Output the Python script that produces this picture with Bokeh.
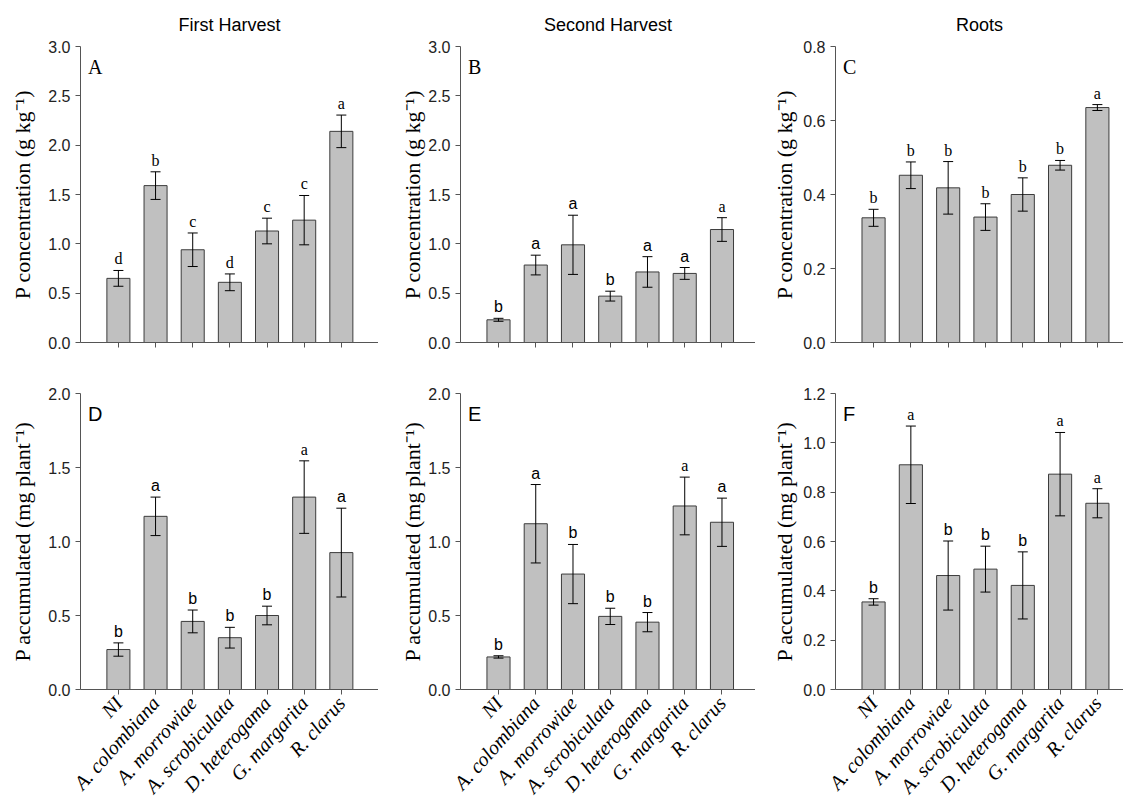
from bokeh.plotting import figure
from bokeh.layouts import column, row
from bokeh.models import (ColumnDataSource, Whisker, TeeHead, FixedTicker, Label,
                          Range1d, NumeralTickFormatter)
from bokeh.core.properties import value
from bokeh.embed import file_html
from bokeh.resources import INLINE

isolates = ["NI", "A. colombiana", "A. morrowiae", "A. scrobiculata",
            "D. heterogama", "G. margarita", "R. clarus"]

first_conc = [0.65, 1.59, 0.94, 0.61, 1.13, 1.24, 2.14]
first_conc_err = [0.08, 0.14, 0.17, 0.085, 0.13, 0.25, 0.165]
first_conc_sig = ["d", "b", "c", "d", "c", "c", "a"]

second_conc = [0.23, 0.785, 0.99, 0.47, 0.715, 0.70, 1.145]
second_conc_err = [0.015, 0.10, 0.30, 0.05, 0.155, 0.06, 0.12]
second_conc_sig = ["b", "a", "a", "b", "a", "a", "a"]

roots_conc = [0.337, 0.452, 0.418, 0.339, 0.400, 0.479, 0.635]
roots_conc_err = [0.023, 0.036, 0.071, 0.036, 0.045, 0.013, 0.008]
roots_conc_sig = ["b", "b", "b", "b", "b", "b", "a"]

first_acc = [0.27, 1.17, 0.46, 0.35, 0.50, 1.30, 0.925]
first_acc_err = [0.045, 0.13, 0.077, 0.07, 0.063, 0.245, 0.30]
first_acc_sig = ["b", "a", "b", "b", "b", "a", "a"]

second_acc = [0.22, 1.12, 0.78, 0.494, 0.455, 1.24, 1.13]
second_acc_err = [0.008, 0.265, 0.20, 0.055, 0.065, 0.195, 0.163]
second_acc_sig = ["b", "a", "b", "b", "b", "a", "a"]

roots_acc = [0.355, 0.911, 0.462, 0.488, 0.422, 0.873, 0.755]
roots_acc_err = [0.013, 0.157, 0.14, 0.093, 0.136, 0.169, 0.059]
roots_acc_sig = ["b", "a", "b", "b", "b", "a", "a"]

col_titles = ["First Harvest", "Second Harvest", "Roots"]
panel_letters = ["A", "B", "C", "D", "E", "F"]
ylab_conc = "P concentration (g kg\u207b\u00b9)"
ylab_acc = "P accumulated (mg plant\u207b\u00b9)"

SERIF = "Liberation Serif"
SANS = "Liberation Sans"
AXIS_COL = "#555555"

# layout per column: figure width, left border, x-range end, y-label standoff, title offset
COLS = [
    dict(width=378, left=80, xend=7.0, standoff=10, toff=-4),
    dict(width=377, left=82, xend=6.9, standoff=0, toff=13),
    dict(width=368, left=80, xend=6.7, standoff=3, toff=5),
]


def make_panel(ci, top, vals, errs, sig, ymax, step, letter, ylabel,
               letter_font, serif_idx, title=None):
    c = COLS[ci]
    if top:
        h, bt, bb = 360, 46, 18
    else:
        h, bt, bb = 448, 33, 119
    p = figure(width=c["width"], height=h, x_range=Range1d(-1.02, c["xend"]),
               y_range=Range1d(0, ymax), output_backend="svg",
               toolbar_location=None, min_border_left=c["left"],
               min_border_right=0, min_border_top=bt, min_border_bottom=bb,
               background_fill_color="white", border_fill_color="white")
    p.outline_line_color = None
    p.grid.visible = False

    xs = list(range(len(isolates)))
    src = ColumnDataSource(dict(
        x=xs, top=vals, upper=[v + e for v, e in zip(vals, errs)],
        lower=[v - e for v, e in zip(vals, errs)], sig=sig,
        font=[SERIF if (serif_idx == "all" or i in serif_idx) else SANS for i in xs],
    ))
    p.vbar(x="x", top="top", bottom=0, width=0.62, source=src,
           fill_color="#c0c0c0", line_color="#3c3c3c", line_width=1)
    w = Whisker(source=src, base="x", upper="upper", lower="lower",
                line_color="black", line_width=1, level="annotation",
                upper_head=TeeHead(size=10, line_color="black", line_width=1),
                lower_head=TeeHead(size=10, line_color="black", line_width=1))
    p.add_layout(w)
    p.text(x="x", y="upper", text="sig", source=src, text_align="center",
           text_baseline="bottom", y_offset=-3, text_font="font",
           text_font_size="16px", text_color="black")

    p.add_layout(Label(x=-1.02 + 0.2, y=ymax * 0.93, text=letter,
                       text_font=letter_font, text_font_size="20px",
                       text_color="black", text_baseline="alphabetic"))

    # y axis
    n = int(round(ymax / step))
    p.yaxis.ticker = FixedTicker(ticks=[round(i * step, 3) for i in range(n + 1)])
    p.yaxis.formatter = NumeralTickFormatter(format="0.0")
    p.yaxis.minor_tick_line_color = None
    p.yaxis.major_tick_in = 0
    p.yaxis.major_tick_out = 5
    p.yaxis.axis_line_color = AXIS_COL
    p.yaxis.major_tick_line_color = AXIS_COL
    p.yaxis.major_label_text_font = SANS
    p.yaxis.major_label_text_font_size = "16px"
    p.yaxis.major_label_text_color = "#222222"
    p.yaxis.axis_label = ylabel
    p.yaxis.axis_label_text_font = SERIF
    p.yaxis.axis_label_text_font_style = "normal"
    p.yaxis.axis_label_text_font_size = "22px"
    p.yaxis.axis_label_text_color = "black"
    p.yaxis.axis_label_standoff = c["standoff"]

    # x axis
    p.xaxis.ticker = FixedTicker(ticks=xs)
    p.xaxis.minor_tick_line_color = None
    p.xaxis.major_tick_in = 0
    p.xaxis.major_tick_out = 5
    p.xaxis.axis_line_color = AXIS_COL
    p.xaxis.major_tick_line_color = AXIS_COL
    if top:
        p.xaxis.major_label_overrides = {i: "" for i in xs}
        p.xaxis.major_label_text_font_size = "0px"
    else:
        p.xaxis.major_label_overrides = {i: name for i, name in enumerate(isolates)}
        p.xaxis.major_label_text_font = SERIF
        p.xaxis.major_label_text_font_style = "italic"
        p.xaxis.major_label_text_font_size = "20px"
        p.xaxis.major_label_text_color = "black"
        p.xaxis.major_label_orientation = 0.84

    if title:
        p.title.text = title
        p.title.align = "center"
        p.title.text_font = SANS
        p.title.text_font_style = "normal"
        p.title.text_font_size = "18px"
        p.title.text_color = "black"
        p.title.offset = c["toff"]
        p.title.standoff = 24
    return p


pA = make_panel(0, True, first_conc, first_conc_err, first_conc_sig, 3.0, 0.5,
                "A", ylab_conc, SERIF, "all", col_titles[0])
pB = make_panel(1, True, second_conc, second_conc_err, second_conc_sig, 3.0, 0.5,
                "B", ylab_conc, SERIF, [6], col_titles[1])
pC = make_panel(2, True, roots_conc, roots_conc_err, roots_conc_sig, 0.8, 0.2,
                "C", ylab_conc, SERIF, "all", col_titles[2])
pD = make_panel(0, False, first_acc, first_acc_err, first_acc_sig, 2.0, 0.5,
                "D", ylab_acc, SANS, [5])
pE = make_panel(1, False, second_acc, second_acc_err, second_acc_sig, 2.0, 0.5,
                "E", ylab_acc, SANS, [5])
pF = make_panel(2, False, roots_acc, roots_acc_err, roots_acc_sig, 1.2, 0.2,
                "F", ylab_acc, SANS, [1, 5, 6])

layout = column(row(pA, pB, pC), row(pD, pE, pF))
open("out.html", "w").write(file_html(layout, INLINE))
